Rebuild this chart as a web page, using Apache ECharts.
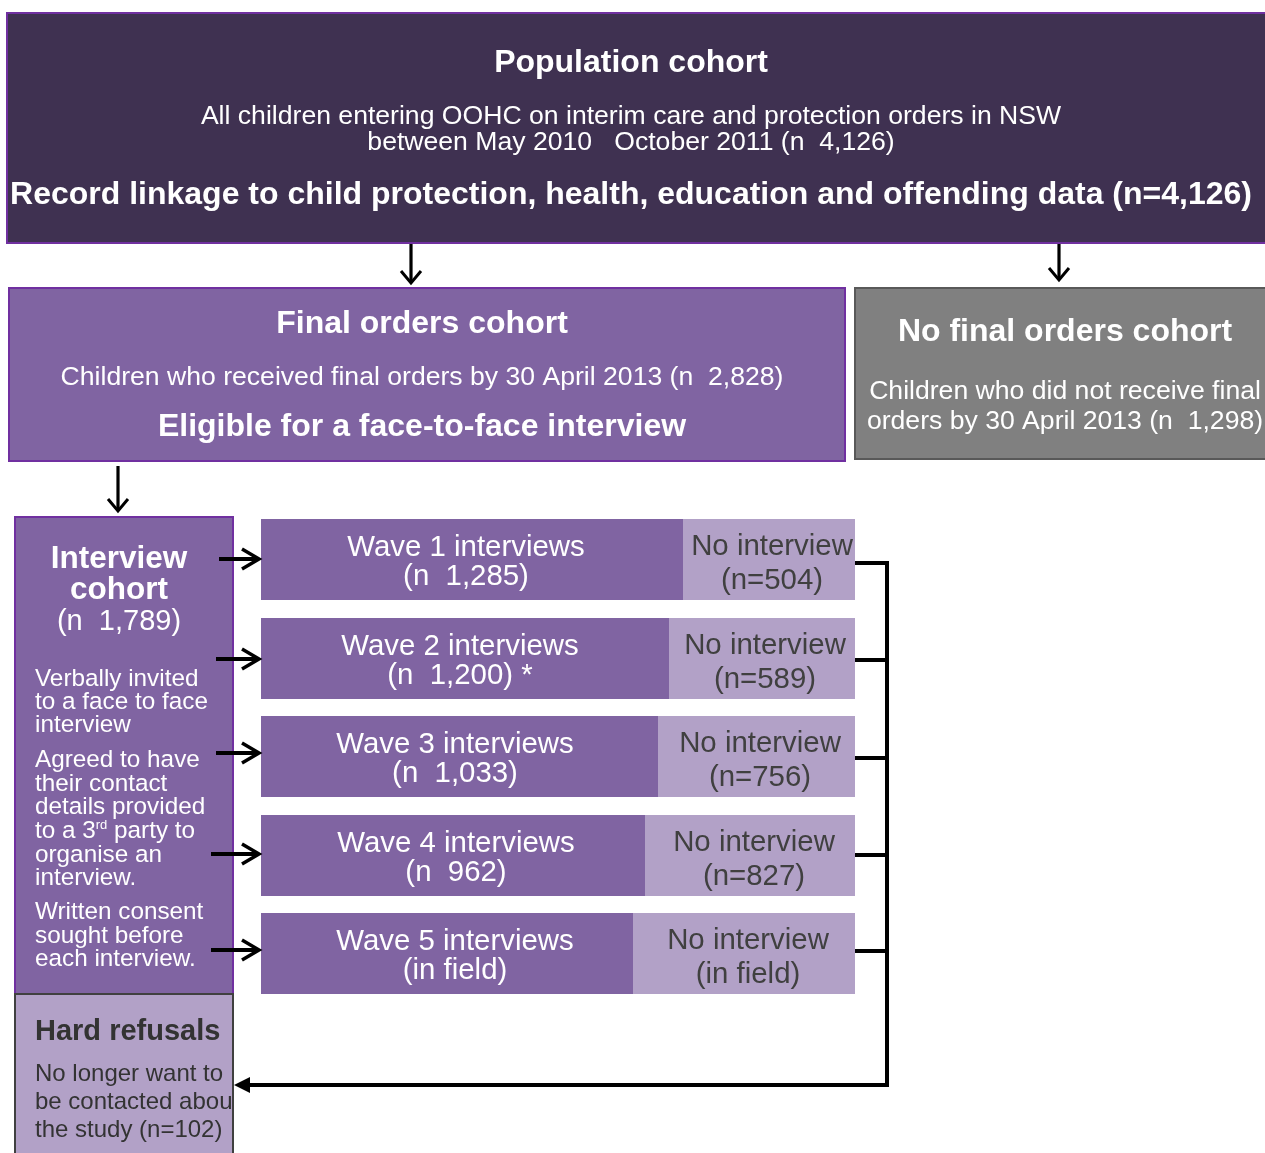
<!DOCTYPE html>
<html><head><meta charset="utf-8">
<script src="https://cdn.jsdelivr.net/npm/echarts@6/dist/echarts.min.js"></script>
<style>html,body{margin:0;padding:0;background:#fff}#c{width:1265px;height:1153px}</style>
</head><body><div id="c"></div>
<script>
// ---------------- data ----------------
const populationTitle = 'Population cohort';
const populationLines = ['All children entering OOHC on interim care and protection orders in NSW',
                         'between May 2010   October 2011 (n  4,126)'];
const linkageLine = 'Record linkage to child protection, health, education and offending data (n=4,126)';
const finalOrdersLines = ['Final orders cohort', 'Children who received final orders by 30 April 2013 (n  2,828)',
                          'Eligible for a face-to-face interview'];
const noFinalOrdersLines = ['No final orders cohort', 'Children who did not receive final',
                            'orders by 30 April 2013 (n  1,298)'];
const interviewCohortLines = ['Interview', 'cohort', '(n  1,789)'];
const consentSteps = [
  ['Verbally invited', 'to a face to face', 'interview'],
  ['Agreed to have', 'their contact', 'details provided', 'to a 3{sup|rd} party to', 'organise an', 'interview.'],
  ['Written consent', 'sought before', 'each interview.']
];
const waveNames = ['Wave 1 interviews', 'Wave 2 interviews', 'Wave 3 interviews', 'Wave 4 interviews', 'Wave 5 interviews'];
const waveInterviewed = [1285, 1200, 1033, 962, null];
const waveNotes = ['', ' *', '', '', ''];
const waveNoInterview = [504, 589, 756, 827, null];
const noInterviewLabel = 'No interview';
const inFieldLabel = '(in field)';
const hardRefusalLines = ['Hard refusals', 'No longer want to', 'be contacted about', 'the study (n=102)'];

// ---------------- layout / style ----------------
const FONT = '"Liberation Sans", Arial, sans-serif';
const C = { dark: '#3F3151', mid: '#8064A2', light: '#B2A1C7', purpleBorder: '#7030A0',
            gray: '#808080', grayBorder: '#595959', text2: '#404040' };
const TY = 2.5; // text vertical offset
const rowTop = [519, 618, 716, 815, 913];
const rowH = 81;
const barLeft = 261, barRight = 855;
const splitX = [683, 669, 658, 645, 633];
const darkTextX = [466, 460, 455, 456, 455];
const lightTextX = [772, 765, 760, 754, 748];
const leftArrowStart = [219, 216, 216, 211, 211];
const arrowY = [559, 659, 753, 854, 950];
const bracketY = [563, 660, 758, 855, 951];

const fmt = v => v.toLocaleString('en-US');
const els = [];
function rect(x, y, w, h, fill, stroke, lw) {
  els.push({ type: 'rect', shape: { x, y, width: w, height: h },
    style: { fill, stroke: stroke || null, lineWidth: lw || 0 } });
}
function text(x, y, str, size, weight, fill, align, extra) {
  els.push({ type: 'text', x, y: y + TY, style: Object.assign({ text: str, fontSize: size, fontWeight: weight,
    fontFamily: FONT, fill, align: align || 'center', verticalAlign: 'middle' }, extra || {}) });
}
function line(points, lw) {
  els.push({ type: 'polyline', shape: { points }, style: { stroke: '#000', lineWidth: lw || 3, fill: null } });
}
function chevron(tx, ty, dir) {
  let pts;
  if (dir === 'down') pts = [[tx - 10, ty - 12], [tx, ty], [tx + 10, ty - 12]];
  else pts = [[tx - 17, ty - 10], [tx, ty], [tx - 17, ty + 10]];
  line(pts, dir === 'down' ? 3 : 3.5);
}

// Top population box
rect(7, 13, 1270, 230, C.dark, C.purpleBorder, 2);
text(631, 61, populationTitle, 32, 'bold', '#fff');
text(631, 114, populationLines[0], 26.6, 'normal', '#fff');
text(631, 140, populationLines[1], 26.6, 'normal', '#fff');
text(631, 193, linkageLine, 32, 'bold', '#fff');

// down arrows
line([[411, 244], [411, 282]], 3.2); chevron(411, 283, 'down');
line([[1059, 244], [1059, 279]], 3.2); chevron(1059, 280, 'down');

// Final orders box
rect(9, 288, 836, 173, C.mid, C.purpleBorder, 2);
text(422, 322, finalOrdersLines[0], 32, 'bold', '#fff');
text(422, 375, finalOrdersLines[1], 26.6, 'normal', '#fff');
text(422, 425, finalOrdersLines[2], 32, 'bold', '#fff');

// No final orders box
rect(855, 288, 420, 171, C.gray, C.grayBorder, 2);
text(1065, 330, noFinalOrdersLines[0], 32, 'bold', '#fff');
text(1065, 389, noFinalOrdersLines[1], 26.6, 'normal', '#fff');
text(1065, 419, noFinalOrdersLines[2], 26.6, 'normal', '#fff');

// arrow to interview cohort
line([[118, 466], [118, 510]], 3.2); chevron(118, 511, 'down');

// Interview cohort box
rect(15, 517, 218, 477, C.mid, C.purpleBorder, 2);
text(119, 557, interviewCohortLines[0], 31.5, 'bold', '#fff');
text(119, 588, interviewCohortLines[1], 31.5, 'bold', '#fff');
text(119, 619, interviewCohortLines[2], 29, 'normal', '#fff');
const stepTops = [677, 758, 910];
const stepGap = [23, 23.6, 23.5];
consentSteps.forEach((step, si) => {
  step.forEach((ln, li) => {
    text(35, stepTops[si] + li * stepGap[si], ln, 24.3, 'normal', '#fff', 'left',
      { rich: { sup: { fontSize: 13, fontFamily: FONT, fill: '#fff', verticalAlign: 'top', padding: [0, 0, 10, 0] } } });
  });
});

// Hard refusals box
rect(15, 994, 218, 200, C.light, C.text2, 2);
text(35, 1029, hardRefusalLines[0], 29, 'bold', '#333', 'left');
text(35, 1072, hardRefusalLines[1], 24, 'normal', '#333', 'left');
text(35, 1100, hardRefusalLines[2], 24, 'normal', '#333', 'left');
text(35, 1128, hardRefusalLines[3], 24, 'normal', '#333', 'left');
// clip overflow to the right of the box
rect(234, 1088, 30, 32, '#fff');
els.push({ type: 'polyline', shape: { points: [[233, 995], [233, 1160]] }, style: { stroke: C.text2, lineWidth: 2, fill: null } });

// Wave rows
waveNames.forEach((name, i) => {
  const top = rowTop[i];
  rect(barLeft, top, splitX[i] - barLeft, rowH, C.mid);
  rect(splitX[i], top, barRight - splitX[i], rowH, C.light);
  const second = waveInterviewed[i] == null ? inFieldLabel : '(n  ' + fmt(waveInterviewed[i]) + ')' + waveNotes[i];
  text(darkTextX[i], top + 26, name, 29.4, 'normal', '#fff');
  text(darkTextX[i], top + 55, second, 29.4, 'normal', '#fff');
  const nsec = waveNoInterview[i] == null ? inFieldLabel : '(n=' + fmt(waveNoInterview[i]) + ')';
  text(lightTextX[i], top + 25, noInterviewLabel, 29.4, 'normal', C.text2);
  text(lightTextX[i], top + 59, nsec, 29.4, 'normal', C.text2);
  // arrows from interview cohort
  line([[leftArrowStart[i], arrowY[i]], [257, arrowY[i]]], 4);
  chevron(259, arrowY[i], 'right');
  // bracket stubs
  line([[855, bracketY[i]], [887, bracketY[i]]], 4);
});

// bracket + return arrow
line([[887, bracketY[0] - 2], [887, 1085], [248, 1085]], 4);
els.push({ type: 'polygon', shape: { points: [[234, 1085], [250, 1077], [250, 1093]] }, style: { fill: '#000' } });

const chart = echarts.init(document.getElementById('c'), null, { renderer: 'canvas' });
chart.setOption({ animation: false, backgroundColor: '#fff', graphic: { elements: els } });
</script></body></html>
